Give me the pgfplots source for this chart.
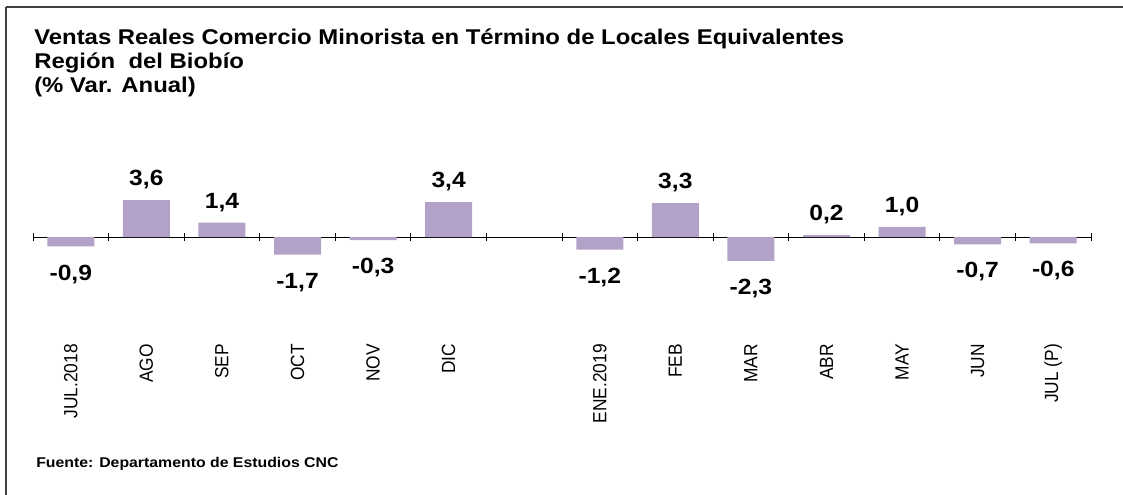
\documentclass[border=0pt]{standalone}
\usepackage{pgfplots}
\pgfplotsset{compat=1.18}
\usepackage{fontspec}
\usepackage{graphicx}
\setmainfont{Liberation Sans}[FakeStretch=1.12]
\newfontfamily\catfont{Liberation Sans}
\definecolor{barc}{HTML}{B3A2C7}
\definecolor{framec}{HTML}{404040}
\newcommand\cl[1]{\scalebox{1}[1.1]{#1}}
\begin{document}
\begin{tikzpicture}
\useasboundingbox (0,0) rectangle (842.25pt,-371.25pt);
\draw[line width=1pt, color=framec] (4.5pt,-5.25pt) -- (842.25pt,-5.25pt);
\draw[line width=1pt, color=framec] (4.5pt,-5.25pt) -- (4.5pt,-371.25pt);
\node[anchor=base west, inner sep=0pt, font=\bfseries\fontsize{16}{18}\selectfont] at (25.5pt,-33.75pt) {Ventas Reales Comercio Minorista en Término de Locales Equivalentes};
\node[anchor=base west, inner sep=0pt, font=\bfseries\fontsize{16}{18}\selectfont] at (25.5pt,-51.75pt) {Región~ del Biobío};
\node[anchor=base west, inner sep=0pt, font=\bfseries\fontsize{16}{18}\selectfont] at (25.5pt,-69.75pt) {(\% Var. Anual)};
\node[anchor=base west, inner sep=0pt, font=\bfseries\fontsize{10.6}{12}\selectfont] at (27pt,-350.25pt) {Fuente: Departamento de Estudios CNC};
\begin{axis}[
  at={(24.75pt,-201.04pt)}, anchor=south west, scale only axis,
  width=793.5pt, height=54.075pt,
  xmin=-0.5, xmax=13.5, ymin=-3, ymax=4,
  axis x line=middle, axis y line=none,
  axis line style={-, black, line width=0.6pt},
  hide obscured x ticks=false,
  ytick=\empty,
  xtick={0,...,13},
  xticklabels={\cl{JUL.2018},\cl{AGO},\cl{SEP},\cl{OCT},\cl{NOV},\cl{DIC},{},\cl{ENE.2019},\cl{FEB},\cl{MAR},\cl{ABR},\cl{MAY},\cl{JUN},\cl{JUL (P)}},
  major tick length=0pt,
  xticklabel style={font=\catfont\fontsize{13}{15}\selectfont, rotate=90, anchor=east, inner sep=0pt},
  xticklabel shift=80pt,
  extra x ticks={-0.5,0.5,...,13.5},
  extra x tick labels={},
  extra x tick style={major tick length=6pt, tick align=center, tick style={black, line width=0.6pt}},
  ybar, bar width=35.25pt, bar shift=0pt,
  nodes near coords, point meta=explicit symbolic,
  clip=false,
]
\addplot[fill=barc, draw=none,
  every node near coord/.append style={font=\bfseries\fontsize{16.5}{18}\selectfont, anchor=south, inner xsep=0pt, inner ysep=8pt}]
coordinates {
  (1,3.6) [3,6]
  (2,1.4) [1,4]
  (5,3.4) [3,4]
  (8,3.3) [3,3]
  (10,0.2) [0,2]
  (11,1.0) [1,0]
};
\addplot[fill=barc, draw=none,
  every node near coord/.append style={font=\bfseries\fontsize{16.5}{18}\selectfont, anchor=north, inner xsep=0pt, inner ysep=13.5pt}]
coordinates {
  (0,-0.9) [-0,9]
  (3,-1.7) [-1,7]
  (4,-0.3) [-0,3]
  (7,-1.2) [-1,2]
  (9,-2.3) [-2,3]
  (12,-0.7) [-0,7]
  (13,-0.6) [-0,6]
};
\end{axis}
\end{tikzpicture}
\end{document}
